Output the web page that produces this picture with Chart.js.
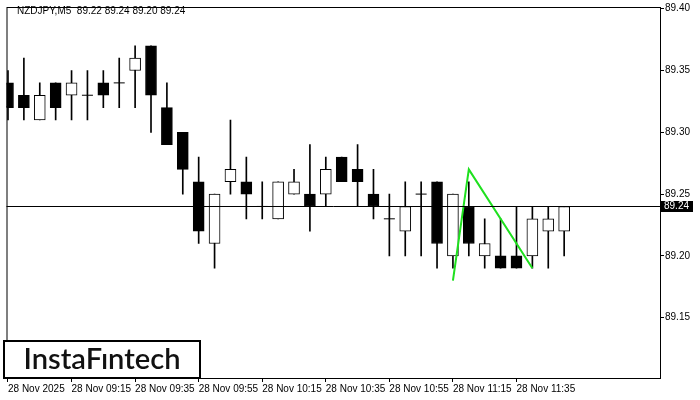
<!DOCTYPE html>
<html>
<head>
<meta charset="utf-8">
<script src="https://cdn.jsdelivr.net/npm/chart.js@4/dist/chart.umd.min.js"></script>
<style>
  html, body { margin: 0; padding: 0; background: #fff; }
  #wrap { width: 700px; height: 400px; }
</style>
</head>
<body>
<div id="wrap"><canvas id="priceChart" width="700" height="400"></canvas></div>
<script>
const symbol = 'NZDJPY,M5';
const open  = [89.34, 89.33, 89.31, 89.34, 89.33, 89.33, 89.34, 89.34, 89.35, 89.37, 89.32, 89.30,
               89.26, 89.21, 89.26, 89.26, 89.24, 89.23, 89.25, 89.25, 89.25, 89.28, 89.27, 89.25,
               89.23, 89.22, 89.25, 89.26, 89.20, 89.24, 89.20, 89.20, 89.20, 89.20, 89.22, 89.22];
const high  = [89.35, 89.36, 89.34, 89.34, 89.35, 89.35, 89.35, 89.36, 89.37, 89.37, 89.34, 89.30,
               89.28, 89.25, 89.31, 89.28, 89.26, 89.26, 89.27, 89.29, 89.28, 89.28, 89.29, 89.27,
               89.25, 89.26, 89.26, 89.26, 89.25, 89.26, 89.23, 89.23, 89.24, 89.24, 89.24, 89.24];
const low   = [89.31, 89.31, 89.31, 89.31, 89.31, 89.31, 89.32, 89.32, 89.32, 89.30, 89.29, 89.25,
               89.21, 89.19, 89.25, 89.23, 89.23, 89.23, 89.25, 89.22, 89.24, 89.26, 89.24, 89.23,
               89.20, 89.20, 89.20, 89.19, 89.19, 89.20, 89.19, 89.19, 89.19, 89.19, 89.19, 89.20];
const close = [89.32, 89.32, 89.33, 89.32, 89.34, 89.33, 89.33, 89.34, 89.36, 89.33, 89.29, 89.27,
               89.22, 89.25, 89.27, 89.25, 89.24, 89.26, 89.26, 89.24, 89.27, 89.26, 89.26, 89.24,
               89.23, 89.24, 89.25, 89.21, 89.25, 89.21, 89.21, 89.19, 89.19, 89.23, 89.23, 89.24];

// pattern line (bar index, price)
const patternBars   = [28, 29, 33];
const patternPrices = [89.18, 89.27, 89.19];

const timeTicks  = [0, 4, 8, 12, 16, 20, 24, 28, 32];
const timeLabels = ['28 Nov 2025', '28 Nov 09:15', '28 Nov 09:35', '28 Nov 09:55', '28 Nov 10:15',
                    '28 Nov 10:35', '28 Nov 10:55', '28 Nov 11:15', '28 Nov 11:35'];
const priceTicks = [89.15, 89.20, 89.25, 89.30, 89.35, 89.40];

const TXT_FONT = { family: 'Liberation Sans', size: 10 };

let wicks = [], bodies = [], bodyColors = [], dojis = [];
open.forEach((o, i) => {
    wicks.push({ x: i, y: [low[i], high[i]] });
    if (o === close[i]) {
        dojis.push({ x: i, y: o });
    } else {
        bodies.push({ x: i, y: [o, close[i]] });
        bodyColors.push(close[i] > o ? '#ffffff' : '#000000');
    }
});
const pattern = patternBars.map((b, i) => ({ x: b, y: patternPrices[i] }));

const lastClose = close[close.length - 1];

const overlay = {
    id: 'overlay',
    afterDraw(chart) {
        const c = chart.ctx;
        const a = chart.chartArea;
        const y = chart.scales.y;
        c.save();

        // bid line
        const py = Math.round(y.getPixelForValue(lastClose) - 0.5) + 0.5;
        c.strokeStyle = '#000';
        c.lineWidth = 1;
        c.beginPath();
        c.moveTo(a.left, py);
        c.lineTo(a.right, py);
        c.stroke();

        // price box
        c.fillStyle = '#000';
        c.fillRect(a.right + 1, py - 5.5, 32, 11);
        c.fillStyle = '#fff';
        c.font = '10px "Liberation Sans"';
        c.textBaseline = 'middle';
        c.textAlign = 'left';
        c.fillText(lastClose.toFixed(2), a.right + 4, py);

        // frame
        c.strokeStyle = '#000';
        c.strokeRect(a.left + 0.5, a.top + 0.5, a.right - a.left, a.bottom - a.top);

        // header
        c.fillStyle = '#000';
        const last = open.length - 1;
        c.fillText(symbol + '  ' + [open[last], high[last], low[last], close[last]].map(v => v.toFixed(2)).join(' '), 17, 11);

        // logo
        c.fillStyle = '#fff';
        c.fillRect(3, 340, 198, 38);
        c.lineWidth = 2;
        c.strokeStyle = '#000';
        c.strokeRect(4, 341, 196, 37);
        c.fillStyle = '#111';
        let size = 26;
        c.font = '600 ' + size + 'px Lato';
        const w = c.measureText('InstaFıntech').width;
        size = size * 157 / w;
        c.font = '600 ' + size.toFixed(1) + 'px Lato';
        c.textAlign = 'center';
        c.textBaseline = 'alphabetic';
        c.fillText('InstaFıntech', 102, 369);
        c.restore();
    }
};

new Chart(document.getElementById('priceChart').getContext('2d'), {
    type: 'bar',
    data: {
        datasets: [
            {
                type: 'line',
                data: pattern,
                borderColor: '#1fe01f',
                borderWidth: 2,
                pointRadius: 0,
                fill: false
            },
            {
                data: bodies,
                backgroundColor: bodyColors,
                borderColor: '#000',
                borderWidth: 1,
                borderSkipped: false,
                barThickness: 11,
                grouped: false
            },
            {
                type: 'line',
                data: dojis,
                showLine: false,
                pointStyle: 'line',
                pointRadius: 5.5,
                borderColor: '#000',
                borderWidth: 1
            },
            {
                data: wicks,
                backgroundColor: '#000',
                borderWidth: 0,
                barThickness: 1,
                grouped: false
            }
        ]
    },
    options: {
        responsive: false,
        animation: false,
        layout: { padding: { left: 2, top: 3, right: 0, bottom: 0 } },
        plugins: { legend: { display: false }, tooltip: { enabled: false } },
        scales: {
            x: {
                type: 'linear',
                offset: false,
                min: -0.09375,
                max: 41.03125,
                afterFit(scale) { scale.height = 22; },
                afterBuildTicks(scale) { scale.ticks = timeTicks.map(v => ({ value: v })); },
                grid: { drawOnChartArea: false, tickLength: 4, color: '#000', offset: false },
                border: { display: true, color: '#000' },
                ticks: {
                    autoSkip: false,
                    maxRotation: 0,
                    align: 'start',
                    padding: 1,
                    color: '#000',
                    font: TXT_FONT,
                    callback: (v) => timeLabels[timeTicks.indexOf(v)]
                }
            },
            y: {
                position: 'right',
                min: 89.1012,
                max: 89.4014,
                afterFit(scale) { scale.width = 40; },
                afterBuildTicks(scale) { scale.ticks = priceTicks.map(v => ({ value: v })); },
                grid: { drawOnChartArea: false, tickLength: 4, color: '#000' },
                border: { display: true, color: '#000' },
                ticks: {
                    padding: 1,
                    color: '#000',
                    font: TXT_FONT,
                    callback: (v) => v.toFixed(2)
                }
            }
        }
    },
    plugins: [overlay]
});
</script>
</body>
</html>
